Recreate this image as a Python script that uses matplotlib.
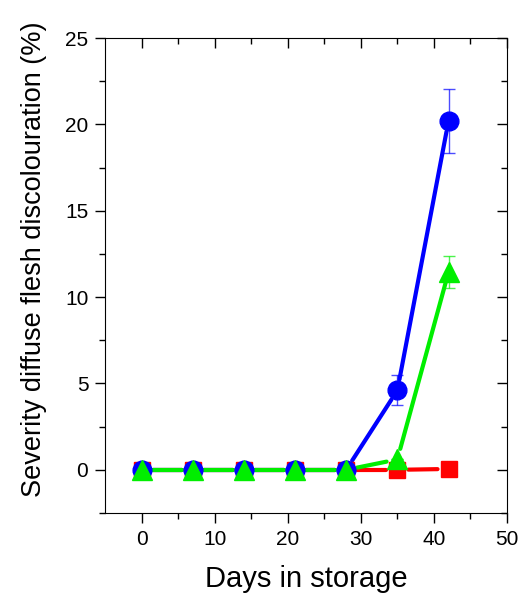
import numpy as np
import matplotlib.pyplot as plt

plt.rcParams['font.family'] = ['Liberation Sans', 'DejaVu Sans']

days = [0, 7, 14, 21, 28, 35, 42]
red = [0, 0, 0, 0, 0, 0, 0.05]
blue = [0, 0, 0, 0, 0, 4.6, 20.2]
blue_err = [0, 0, 0, 0, 0, 0.87, 1.85]
green = [0, 0, 0, 0, 0, 0.6, 11.45]
green_err = [0, 0, 0, 0, 0, 0, 0.95]

fig = plt.figure(figsize=(5.23, 5.98), dpi=100)
ax = fig.add_axes([105 / 523, 1 - 513 / 598, 402 / 523, 475 / 598])
ax.set_xlim(-5, 50)
ax.set_ylim(-2.5, 25)
fig.canvas.draw()


def gapped(x, y, gap=11):
    # Origin-style lines that stop short of each marker
    pts = ax.transData.transform(np.column_stack([x, y]))
    inv = ax.transData.inverted()
    segs = []
    for p0, p1 in zip(pts[:-1], pts[1:]):
        d = p1 - p0
        n = np.hypot(*d)
        if n <= 2 * gap:
            continue
        u = d / n
        segs.append(inv.transform([p0 + u * gap, p1 - u * gap]))
    return segs


series = [
    (red, None, 'red', 's', 12),
    (blue, blue_err, 'blue', 'o', 13.5),
    (green, green_err, '#00ee00', '^', 14.5),
]
for vals, err, col, mk, ms in series:
    for s in gapped(days, vals):
        ax.plot(s[:, 0], s[:, 1], color=col, lw=3, solid_capstyle='round', zorder=2)
    if err is not None:
        ax.errorbar(days, vals, yerr=err, fmt='none', ecolor=col, alpha=0.7,
                    elinewidth=1, capsize=4, capthick=1, zorder=3)
    ax.plot(days, vals, ls='none', marker=mk, color=col, ms=ms, mec=col, zorder=4)

ax.set_xticks(range(0, 51, 10))
ax.set_xticks(range(5, 50, 10), minor=True)
ax.set_yticks(range(0, 26, 5))
ax.set_yticks(np.arange(-2.5, 25, 5), minor=True)
ax.tick_params(which='both', direction='out', labelsize=15, width=1, pad=5,
               right=True, top=True)
ax.tick_params(which='major', length=7)
ax.tick_params(which='minor', length=4.5)
ax.set_xlabel('Days in storage', fontsize=21, labelpad=12)
ax.set_ylabel('Severity diffuse flesh discolouration (%)', fontsize=19.5)
ax.yaxis.set_label_coords(-0.145, 0.535)

# right and top ticks point inward
for t in ax.yaxis.get_major_ticks() + ax.yaxis.get_minor_ticks():
    t.tick2line.set_marker(0)
for t in ax.xaxis.get_major_ticks() + ax.xaxis.get_minor_ticks():
    t.tick2line.set_marker(3)

plt.savefig('out.png', dpi=100)
